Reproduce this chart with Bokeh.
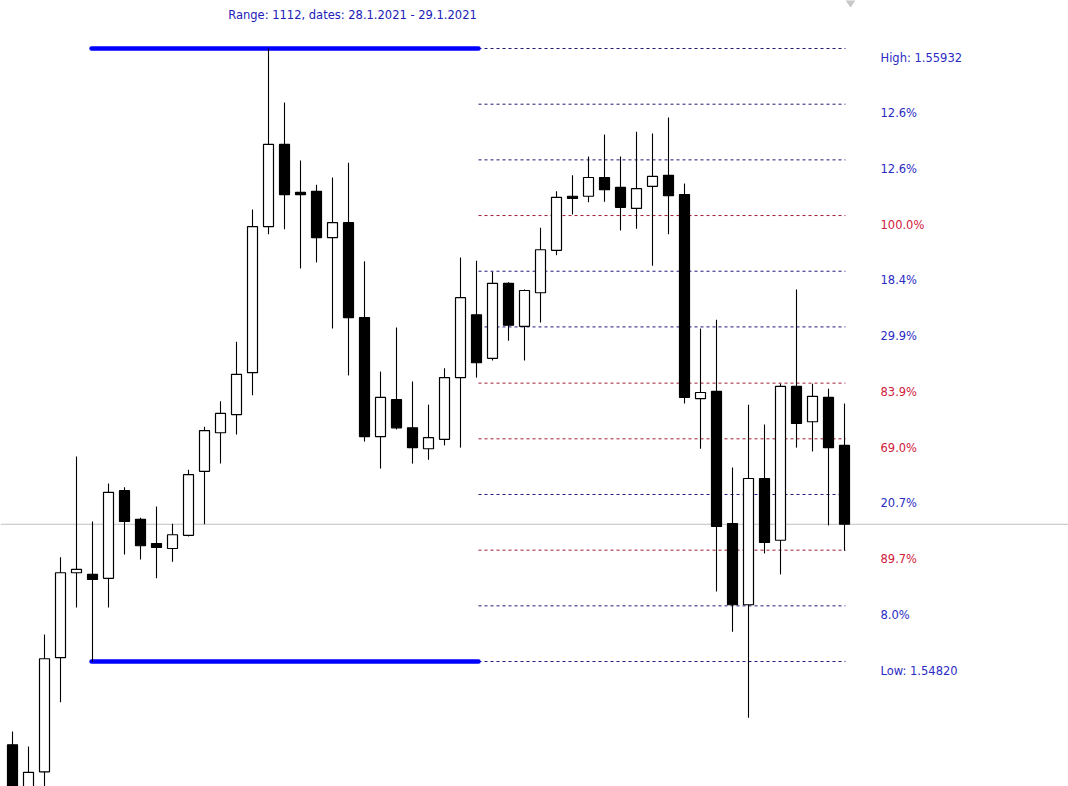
from bokeh.plotting import figure
from bokeh.models import Range1d, ColumnDataSource
from bokeh.core.properties import value
from bokeh.embed import file_html
from bokeh.resources import INLINE

# ---------------- data (prices) ----------------
opens = [1.54669, 1.54571, 1.54620, 1.54827, 1.54981, 1.54978, 1.54971, 1.55130, 1.55078, 1.55034,
         1.55025, 1.55049, 1.55165, 1.55235, 1.55268, 1.55344, 1.55609, 1.55758, 1.55671, 1.55673,
         1.55589, 1.55616, 1.55444, 1.55228, 1.55295, 1.55244, 1.55206, 1.55223, 1.55335, 1.55449,
         1.55370, 1.55506, 1.55428, 1.55489, 1.55566, 1.55664, 1.55664, 1.55698, 1.55680, 1.55642,
         1.55682, 1.55702, 1.55667, 1.55297, 1.55310, 1.55070, 1.54923, 1.55152, 1.55040, 1.55319,
         1.55255, 1.55299, 1.55212]
highs = [1.54693, 1.54666, 1.54869, 1.55009, 1.55192, 1.55074, 1.55143, 1.55136, 1.55081, 1.55101,
         1.55070, 1.55168, 1.55246, 1.55292, 1.55400, 1.55640, 1.55932, 1.55834, 1.55729, 1.55685,
         1.55698, 1.55725, 1.55546, 1.55346, 1.55426, 1.55328, 1.55286, 1.55352, 1.55553, 1.55547,
         1.55527, 1.55508, 1.55495, 1.55607, 1.55673, 1.55702, 1.55736, 1.55776, 1.55736, 1.55781,
         1.55778, 1.55807, 1.55687, 1.55424, 1.55440, 1.55172, 1.55286, 1.55250, 1.55324, 1.55495,
         1.55324, 1.55315, 1.55288]
lows = [1.54559, 1.54557, 1.54568, 1.54746, 1.54918, 1.54820, 1.54918, 1.55014, 1.55005, 1.54971,
        1.55001, 1.55047, 1.55069, 1.55179, 1.55232, 1.55303, 1.55595, 1.55604, 1.55533, 1.55544,
        1.55424, 1.55339, 1.55219, 1.55170, 1.55241, 1.55179, 1.55186, 1.55212, 1.55208, 1.55335,
        1.55366, 1.55402, 1.55366, 1.55435, 1.55557, 1.55631, 1.55653, 1.55654, 1.55602, 1.55605,
        1.55538, 1.55595, 1.55288, 1.55206, 1.54947, 1.54874, 1.54718, 1.55016, 1.54978, 1.55208,
        1.55201, 1.55067, 1.55021]
closes = [1.54577, 1.54619, 1.54825, 1.54981, 1.54987, 1.54969, 1.55127, 1.55074, 1.55030, 1.55027,
          1.55050, 1.55159, 1.55239, 1.55270, 1.55341, 1.55609, 1.55758, 1.55667, 1.55667, 1.55589,
          1.55616, 1.55444, 1.55228, 1.55299, 1.55244, 1.55208, 1.55226, 1.55335, 1.55480, 1.55362,
          1.55506, 1.55430, 1.55493, 1.55567, 1.55662, 1.55660, 1.55698, 1.55676, 1.55644, 1.55678,
          1.55700, 1.55665, 1.55299, 1.55308, 1.55065, 1.54923, 1.55152, 1.55036, 1.55319, 1.55252,
          1.55301, 1.55208, 1.55069]

range_high = 1.55932
range_low = 1.54820
title_text = "Range: 1112, dates: 28.1.2021 - 29.1.2021"

level_prices = [1.55932, 1.55831, 1.55730, 1.55629, 1.55528, 1.55427,
                1.55325, 1.55224, 1.55123, 1.55022, 1.54921, 1.54820]
level_labels = ["High: 1.55932", "12.6%", "12.6%", "100.0%", "18.4%", "29.9%",
                "83.9%", "69.0%", "20.7%", "89.7%", "8.0%", "Low: 1.54820"]
level_kinds = ["b", "b", "b", "r", "b", "b", "r", "r", "b", "r", "b", "b"]

# ---------------- styling / layout constants ----------------
W, H = 1068, 786
X_START, X_END = -0.75, 66.0
Y_START, Y_END = 1.545933, 1.560191
LEVEL_X0, LEVEL_X1 = 29.125, 52.06
THICK_X0 = 4.94
LABEL_X = 54.25
TITLE_X, TITLE_Y = 21.25, 1.55992
SHIFT_MARK_X = 52.375
BODY_W = 0.625
LINE_COL = {"b": "#1f1a78", "r": "#9e1b35"}
TEXT_COL = {"b": "#2b2bc4", "r": "#d0203a"}
FONT = value("DejaVu Sans")

n = len(opens)
idx = list(range(n))
up = [c >= o for o, c in zip(opens, closes)]
src = ColumnDataSource(dict(
    x=idx, high=highs, low=lows,
    top=[max(o, c) for o, c in zip(opens, closes)],
    bottom=[min(o, c) for o, c in zip(opens, closes)],
    fill=["white" if u else "black" for u in up],
))

p = figure(width=W, height=H, output_backend="svg", toolbar_location=None,
           x_range=Range1d(X_START, X_END), y_range=Range1d(Y_START, Y_END),
           min_border=0, min_border_left=0, min_border_right=0,
           min_border_top=0, min_border_bottom=0)
p.xaxis.visible = False
p.yaxis.visible = False
p.grid.visible = False
p.outline_line_color = None
p.background_fill_color = "white"
p.border_fill_color = "white"

# current price line (last close)
p.segment(x0=[X_START], x1=[X_END], y0=[closes[-1]], y1=[closes[-1]],
          line_color="#c0c0c0", line_width=1)

# chart-shift marker at the top edge
p.scatter(x=[SHIFT_MARK_X], y=[Y_END], marker="diamond", size=13,
          fill_color="#c8c8c8", line_color="#c8c8c8")

# level lines
lsrc = ColumnDataSource(dict(
    y=level_prices, label=level_labels,
    lcol=[LINE_COL[k] for k in level_kinds],
    tcol=[TEXT_COL[k] for k in level_kinds],
))
p.segment(x0=LEVEL_X0, x1=LEVEL_X1, y0="y", y1="y", source=lsrc,
          line_color="lcol", line_width=1, line_dash="3 3")
p.text(x=LABEL_X, y="y", text="label", source=lsrc, text_color="tcol",
       text_font=FONT, text_font_size="11.5px", text_baseline="middle",
       text_align="left", y_offset=9)

# thick high/low lines
p.segment(x0=[THICK_X0, THICK_X0], x1=[LEVEL_X0, LEVEL_X0],
          y0=[range_high, range_low], y1=[range_high, range_low],
          line_color="#0000ff", line_width=4.5, line_cap="round")

# candles
p.segment(x0="x", x1="x", y0="low", y1="high", source=src,
          line_color="black", line_width=1.1)
p.vbar(x="x", width=BODY_W, top="top", bottom="bottom", source=src,
       fill_color="fill", line_color="black", line_width=1.2)

# title
p.text(x=[TITLE_X], y=[TITLE_Y], text=[title_text], text_color="#2020b8",
       text_font=FONT, text_font_size="11.5px", text_align="center",
       text_baseline="middle")

open("out.html", "w").write(file_html(p, INLINE))
